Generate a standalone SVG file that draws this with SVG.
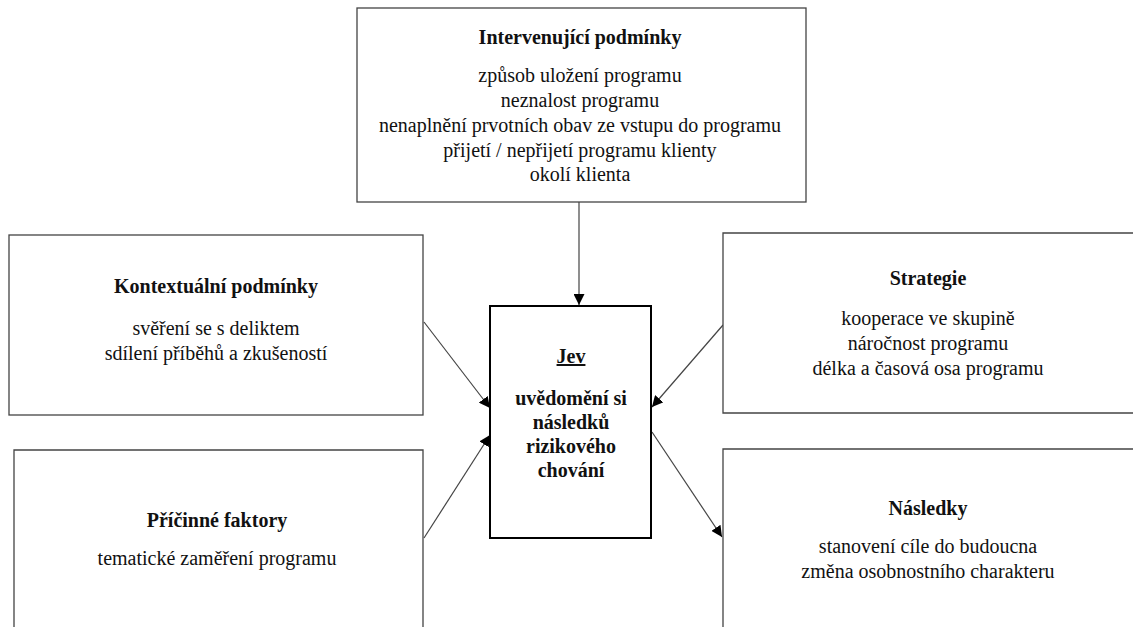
<svg xmlns="http://www.w3.org/2000/svg" width="1133" height="627" viewBox="0 0 1133 627">
<style>
.box{fill:#fff;stroke:#444;stroke-width:1.3}
.jev{fill:#fff;stroke:#000;stroke-width:2}
text{font-family:'Liberation Serif','Times New Roman',serif;font-size:20px;fill:#111;text-anchor:middle}
.t{font-weight:bold}
.conn{stroke:#444;stroke-width:1.2;fill:none;marker-end:url(#ah)}
</style>
<defs>
<marker id="ah" viewBox="0 0 10 10" refX="10" refY="5" markerWidth="11" markerHeight="11" markerUnits="userSpaceOnUse" orient="auto">
<path d="M0,0 L10,5 L0,10 Z" fill="#000"/>
</marker>
</defs>
<rect width="1133" height="627" fill="#fff"/>
<g id="connectors">
<line class="conn" x1="579" y1="202" x2="579" y2="305"/>
<line class="conn" x1="424" y1="322" x2="490" y2="408"/>
<line class="conn" x1="424" y1="538" x2="490" y2="435"/>
<line class="conn" x1="723" y1="325" x2="652" y2="407"/>
<line class="conn" x1="652" y1="432" x2="722" y2="537"/>
</g>
<g id="intervenujici">
<rect class="box" x="357" y="8" width="449" height="194"/>
<text class="t" x="580" y="44">Intervenující podmínky</text>
<text x="580" y="82">způsob uložení programu</text>
<text x="580" y="107">neznalost programu</text>
<text x="580" y="132">nenaplnění prvotních obav ze vstupu do programu</text>
<text x="580" y="157">přijetí / nepřijetí programu klienty</text>
<text x="580" y="181">okolí klienta</text>
</g>
<g id="kontextualni">
<rect class="box" x="9" y="235" width="414" height="180"/>
<text class="t" x="216" y="293">Kontextuální podmínky</text>
<text x="216" y="335">svěření se s deliktem</text>
<text x="216" y="360">sdílení příběhů a zkušeností</text>
</g>
<g id="pricinne">
<path class="box" d="M14,628 V450 H423 V628"/>
<text class="t" x="217" y="527">Příčinné faktory</text>
<text x="217" y="565">tematické zaměření programu</text>
</g>
<g id="jev">
<rect class="jev" x="490" y="306" width="161" height="232"/>
<text class="t" x="571" y="363" text-decoration="underline">Jev</text>
<text class="t" x="571" y="405">uvědomění si</text>
<text class="t" x="571" y="429">následků</text>
<text class="t" x="571" y="453">rizikového</text>
<text class="t" x="571" y="477">chování</text>
</g>
<g id="strategie">
<path class="box" d="M1134,233 H723 V413 H1134"/>
<text class="t" x="928" y="285">Strategie</text>
<text x="928" y="325">kooperace ve skupině</text>
<text x="928" y="350">náročnost programu</text>
<text x="928" y="375">délka a časová osa programu</text>
</g>
<g id="nasledky">
<path class="box" d="M723,628 V449 H1134"/>
<text class="t" x="928" y="515">Následky</text>
<text x="928" y="553">stanovení cíle do budoucna</text>
<text x="928" y="578">změna osobnostního charakteru</text>
</g>
</svg>
